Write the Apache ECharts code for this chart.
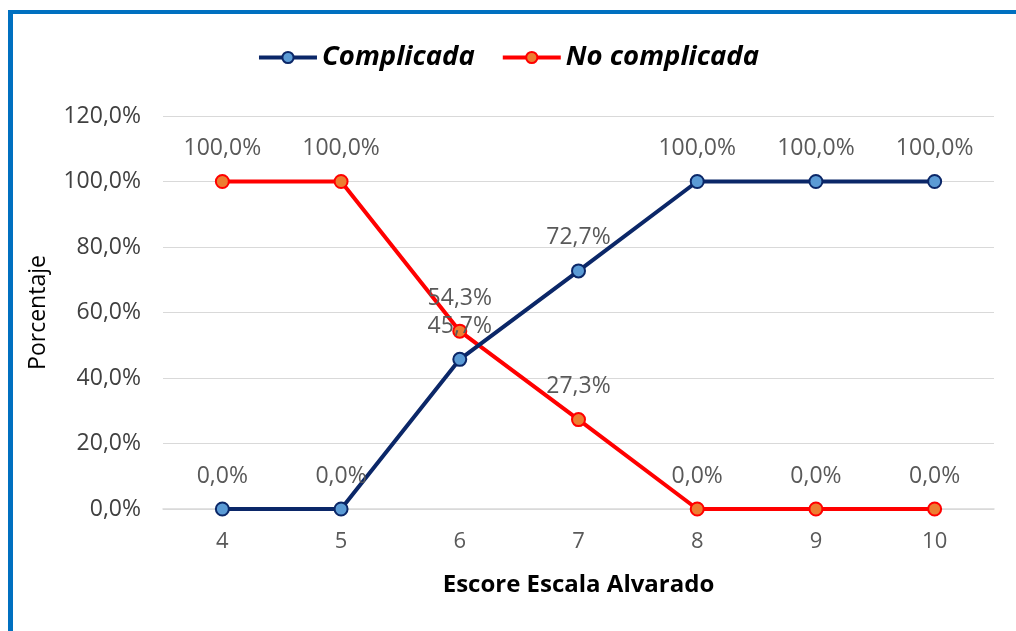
<!DOCTYPE html>
<html>
<head>
<meta charset="utf-8">
<script src="https://cdn.jsdelivr.net/npm/echarts@6/dist/echarts.min.js"></script>
<style>
  html, body { margin: 0; padding: 0; background: #ffffff; }
  #wrap { position: relative; width: 1016px; height: 631px; overflow: hidden; }
  #frame { position: absolute; left: 8px; top: 10px; width: 1016px; height: 640px;
           border-left: 5px solid #0070C0; border-top: 4px solid #0070C0; box-sizing: border-box; }
  #chart { position: absolute; left: 0; top: 0; width: 1016px; height: 631px; }
</style>
</head>
<body>
<div id="wrap">
  <div id="frame"></div>
  <div id="chart"></div>
</div>
<script>
// Escore Escala Alvarado vs percentage of complicated / non-complicated cases
const categories = ['4', '5', '6', '7', '8', '9', '10'];
const complicada = [0.0, 0.0, 45.7, 72.7, 100.0, 100.0, 100.0];
const noComplicada = [100.0, 100.0, 54.3, 27.3, 0.0, 0.0, 0.0];
const yTicks = [0, 20, 40, 60, 80, 100, 120];

const FONT = '"Open Sans", Lato, sans-serif';
const fmt = v => v.toFixed(1).replace('.', ',') + '%';

const chart = echarts.init(document.getElementById('chart'), null, { renderer: 'canvas' });

const labelCfg = {
  show: true,
  position: 'top',
  distance: 14,
  color: '#595959',
  fontFamily: FONT,
  fontSize: 23,
  formatter: p => fmt(p.value)
};

chart.setOption({
  animation: false,
  backgroundColor: 'transparent',
  textStyle: { fontFamily: FONT },
  legend: {
    top: 39,
    left: 'center',
    itemWidth: 58,
    itemHeight: 14,
    itemGap: 26,
    lineStyle: { width: 4 },
    textStyle: { fontFamily: FONT, fontSize: 27.5, fontStyle: 'italic', fontWeight: 'bold', color: '#000000', padding: [0, 0, 0, 0] },
    data: ['Complicada', 'No complicada']
  },
  grid: { left: 163, right: 22, top: 116, bottom: 122, containLabel: false },
  xAxis: {
    type: 'category',
    data: categories,
    boundaryGap: true,
    name: 'Escore Escala Alvarado',
    nameLocation: 'middle',
    nameGap: 64,
    nameTextStyle: { fontFamily: FONT, fontSize: 24, fontWeight: 'bold', color: '#000000' },
    axisLine: { show: true, lineStyle: { color: '#d9d9d9', width: 1.5 } },
    axisTick: { show: false },
    axisLabel: { color: '#595959', fontSize: 22, fontFamily: FONT, margin: 22 }
  },
  yAxis: {
    type: 'value',
    min: yTicks[0],
    max: yTicks[yTicks.length - 1],
    interval: 20,
    name: 'Porcentaje',
    nameLocation: 'middle',
    nameGap: 113,
    nameRotate: 90,
    nameTextStyle: { fontFamily: FONT, fontSize: 23, color: '#000000' },
    axisLine: { show: false },
    axisTick: { show: false },
    axisLabel: { color: '#404040', fontSize: 23, fontFamily: FONT, margin: 22, formatter: v => fmt(v) },
    splitLine: { show: true, lineStyle: { color: '#d9d9d9', width: 1.2 } }
  },
  series: [
    {
      name: 'Complicada',
      type: 'line',
      data: complicada,
      symbol: 'circle',
      symbolSize: 13,
      z: 3,
      lineStyle: { color: '#0B2768', width: 4 },
      itemStyle: { color: '#5B9BD5', borderColor: '#0B2768', borderWidth: 2 },
      label: labelCfg
    },
    {
      name: 'No complicada',
      type: 'line',
      data: noComplicada,
      symbol: 'circle',
      symbolSize: 13,
      z: 2,
      lineStyle: { color: '#FF0000', width: 4 },
      itemStyle: { color: '#ED7D31', borderColor: '#FF0000', borderWidth: 2 },
      label: labelCfg
    }
  ]
});
</script>
</body>
</html>
